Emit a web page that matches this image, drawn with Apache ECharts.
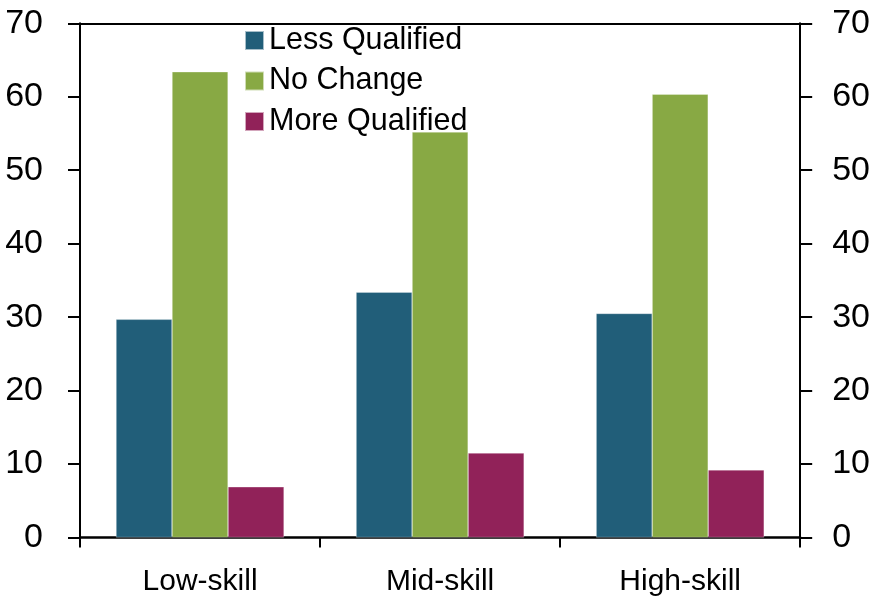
<!DOCTYPE html>
<html>
<head>
<meta charset="utf-8">
<script src="https://cdn.jsdelivr.net/npm/echarts@6/dist/echarts.min.js"></script>
<style>
html,body{margin:0;padding:0;background:#fff;}
#chart{width:873px;height:603px;}
</style>
</head>
<body>
<div id="chart"></div>
<script>
var categories = ['Low-skill', 'Mid-skill', 'High-skill'];
var seriesNames = ['Less Qualified', 'No Change', 'More Qualified'];
var lessQualified = [29.7, 33.4, 30.5];
var noChange = [63.4, 55.2, 60.35];
var moreQualified = [6.9, 11.5, 9.2];
var yTicks = [0, 10, 20, 30, 40, 50, 60, 70];
var colors = ['#215E79', '#88A944', '#912259'];

var chart = echarts.init(document.getElementById('chart'), null, {renderer: 'canvas'});
var narrow = '"Liberation Sans Narrow", "Arial Narrow", "Liberation Sans", Arial, sans-serif';
var regular = '"Liberation Sans", Arial, sans-serif';

function yAxisDef(pos, margin) {
  return {
    type: 'value', position: pos, min: yTicks[0], max: yTicks[yTicks.length - 1], interval: 10,
    axisLine: {show: true, lineStyle: {color: '#000', width: 2}},
    axisTick: {show: true, inside: false, length: 12, lineStyle: {color: '#000', width: 2}},
    axisLabel: {show: true, margin: margin, color: '#000', fontSize: 34, fontFamily: narrow},
    splitLine: {show: false}
  };
}

var dataSets = [lessQualified, noChange, moreQualified];
var series = dataSets.map(function (d, i) {
  return {
    name: seriesNames[i], type: 'bar', data: d, barWidth: 56, barGap: '0%',
    itemStyle: {color: colors[i], borderColor: 'rgba(255,255,255,0.6)', borderWidth: 0.5},
    emphasis: {disabled: true}, animation: false
  };
});

chart.setOption({
  animation: false,
  backgroundColor: '#fff',
  grid: {left: 80, right: 72, top: 23.3, bottom: 65.5, containLabel: false},
  legend: {
    orient: 'vertical', left: 244, top: 25, itemWidth: 19, itemHeight: 19, itemGap: 9.5,
    icon: 'rect', selectedMode: false, data: seriesNames,
    textStyle: {color: '#000', fontSize: 30.5, fontFamily: regular, lineHeight: 30, padding: [0, 0, 0, 0]},
    padding: 0
  },
  xAxis: [{
    type: 'category', position: 'bottom', data: categories,
    axisLine: {show: true, onZero: false, lineStyle: {color: '#000', width: 2.5}},
    axisTick: {show: true, alignWithLabel: false, length: 10, lineStyle: {color: '#000', width: 2}},
    axisLabel: {color: '#000', fontSize: 30, fontFamily: regular, margin: 29}
  }, {
    type: 'category', position: 'top', data: categories,
    axisLine: {show: true, onZero: false, lineStyle: {color: '#000', width: 2}},
    axisTick: {show: false}, axisLabel: {show: false}
  }],
  yAxis: [yAxisDef('left', 37), yAxisDef('right', 32)],
  series: series
});
</script>
</body>
</html>
